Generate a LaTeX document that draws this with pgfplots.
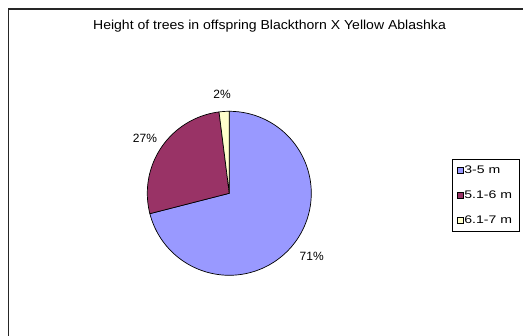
\documentclass[border=0pt]{standalone}
\usepackage{pgfplots}
\pgfplotsset{compat=1.18}
\usepgfplotslibrary{polar}
\usepackage{fontspec}
\setmainfont{Liberation Sans}
\newfontfamily\legfont[FakeStretch=1.28]{Liberation Sans}
\newfontfamily\titfont[FakeStretch=1.08]{Liberation Sans}
\definecolor{pblue}{HTML}{9999FF}
\definecolor{pplum}{HTML}{993366}
\definecolor{pyell}{HTML}{FFFFCC}
\begin{document}
\begin{tikzpicture}[x=1pt,y=1pt]
\clip (0,0) rectangle (523,336);
\fill[white] (0,0) rectangle (523,336);
\draw[line width=1.2pt, black!85] (8.5,327) rectangle (560,-20);
\node[font=\titfont\fontsize{13}{15}\selectfont, anchor=base] at (269.5,306.7) {Height of trees in offspring Blackthorn X Yellow Ablashka};
% shares: 3-5 m 71 %, 5.1-6 m 27 %, 6.1-7 m 2 %  (angles = 3.6 * share, clockwise from 12 o'clock)
\begin{polaraxis}[
  at={(229.3pt,142.7pt)}, anchor=origin,
  width=164pt, height=164pt, scale only axis,
  xmin=0, xmax=360, ymin=0, ymax=1,
  hide axis, clip=false,
  legend style={at={(axis description cs:1.856,0.487)}, anchor=west,
    draw=black, fill=white, font=\legfont\fontsize{11}{13}\selectfont,
    inner xsep=5pt, inner ysep=5pt, row sep=11.5pt, cells={anchor=west},
    /tikz/every odd column/.style={column sep=-1pt}},
  legend image code/.code={\draw[#1, draw=black, line width=0.5pt] (0pt,-3pt) rectangle (6pt,3pt);},
]
\addplot[fill=pblue, draw=black, line width=0.7pt, domain=-165.6:90, samples=120] {1} -- (axis cs:0,0) -- cycle;
\addlegendentry{3-5 m}
\addplot[fill=pplum, draw=black, line width=0.7pt, domain=-262.8:-165.6, samples=60] {1} -- (axis cs:0,0) -- cycle;
\addlegendentry{5.1-6 m}
\addplot[fill=pyell, draw=black, line width=0.7pt, domain=-270:-262.8, samples=8] {1} -- (axis cs:0,0) -- cycle;
\addlegendentry{6.1-7 m}
\node[font=\fontsize{12}{14}\selectfont] at (axis cs:-37.4,1.265) {71\%};
\node[font=\fontsize{12}{14}\selectfont] at (axis cs:146.7,1.23) {27\%};
\node[font=\fontsize{12}{14}\selectfont] at (axis cs:94.2,1.215) {2\%};
\end{polaraxis}
\end{tikzpicture}
\end{document}
